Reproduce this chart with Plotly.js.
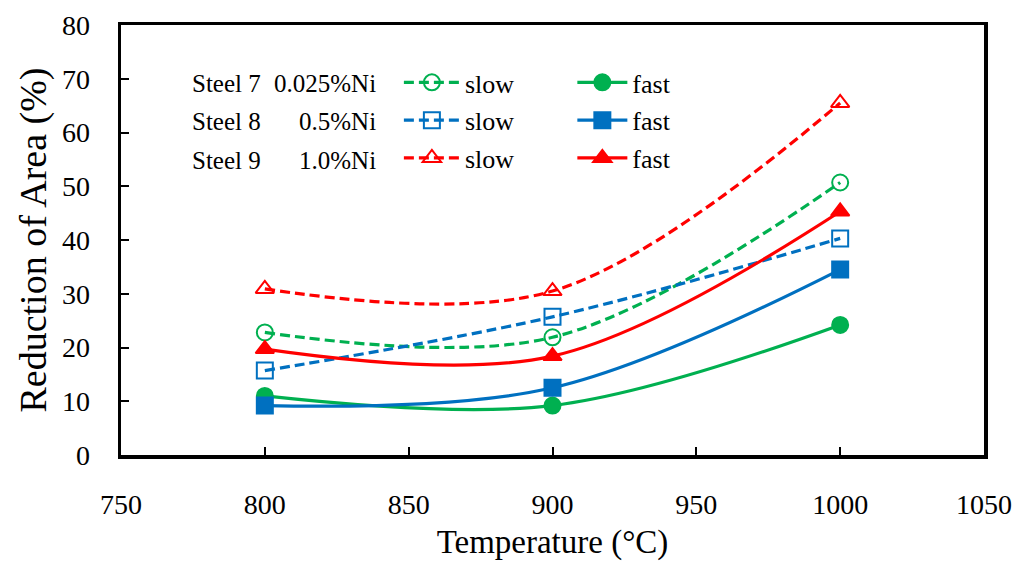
<!DOCTYPE html>
<html>
<head>
<meta charset="utf-8">
<script src="https://cdn.plot.ly/plotly-3.0.1.min.js"></script>
<style>
  html, body { margin: 0; padding: 0; background: #fff; }
  #chart { width: 1030px; height: 565px; }
</style>
</head>
<body>
<div id="chart"></div>
<script>
// Deformation temperature (°C)
const temperature = [800, 900, 1000];

// Reduction of area (%) for each steel and cooling rate
const steel7Slow = [22.8, 21.9, 50.7];
const steel7Fast = [11.0, 9.2, 24.2];
const steel8Slow = [15.7, 25.7, 40.3];
const steel8Fast = [9.2, 12.5, 34.5];
const steel9Slow = [30.9, 30.5, 65.5];
const steel9Fast = [19.7, 18.4, 45.3];

// Legend row labels
const steelNames = ['Steel 7', 'Steel 8', 'Steel 9'];
const nickelContents = ['0.025%Ni', '0.5%Ni', '1.0%Ni'];

const GREEN = '#00B050';
const BLUE = '#0070C0';
const RED = '#FF0000';
const FONT = '"Liberation Serif", "Times New Roman", Times, serif';

function series(y, name, color, symbol, dashed, legend, group) {
  return {
    x: temperature,
    y: y,
    name: name,
    type: 'scatter',
    mode: 'lines+markers',
    line: { color: color, width: 3.2, shape: 'spline', smoothing: 1, dash: dashed ? '10px,5px' : 'solid' },
    marker: { symbol: symbol, size: 16, color: color, line: { color: color, width: 2 } },
    legend: legend,
    legendgroup: group
  };
}

const traces = [
  series(steel7Slow, 'slow', GREEN, 'circle-open', true, 'legend', 'g1'),
  series(steel8Slow, 'slow', BLUE, 'square-open', true, 'legend', 'g2'),
  series(steel9Slow, 'slow', RED, 'triangle-up-open', true, 'legend', 'g3'),
  series(steel7Fast, 'fast', GREEN, 'circle', false, 'legend2', 'g4'),
  series(steel8Fast, 'fast', BLUE, 'square', false, 'legend2', 'g5'),
  series(steel9Fast, 'fast', RED, 'triangle-up', false, 'legend2', 'g6')
];

const legendStyle = {
  font: { family: FONT, size: 26, color: '#000' },
  bgcolor: 'rgba(0,0,0,0)',
  borderwidth: 0,
  traceorder: 'grouped',
  tracegroupgap: 1,
  yanchor: 'top',
  xanchor: 'left'
};

// Row labels beside the legend entries
const annotations = [];
const rowTop = 0.865;
const rowStep = 0.0895;
steelNames.forEach((s, i) => {
  annotations.push({
    xref: 'paper', yref: 'paper', x: 0.080, y: rowTop - i * rowStep,
    text: s, showarrow: false, xanchor: 'left', yanchor: 'middle',
    font: { family: FONT, size: 25, color: '#000' }
  });
  annotations.push({
    xref: 'paper', yref: 'paper', x: 0.2975, y: rowTop - i * rowStep,
    text: nickelContents[i], showarrow: false, xanchor: 'right', yanchor: 'middle',
    font: { family: FONT, size: 25, color: '#000' }
  });
});

const layout = {
  width: 1030,
  height: 565,
  margin: { l: 121, r: 46, t: 25, b: 110 },
  paper_bgcolor: '#fff',
  plot_bgcolor: '#fff',
  font: { family: FONT, color: '#000' },
  showlegend: true,
  legend: Object.assign({}, legendStyle, { x: 0.322, y: 0.921, itemwidth: 56 }),
  legend2: Object.assign({}, legendStyle, { x: 0.523, y: 0.921, itemwidth: 50 }),
  xaxis: {
    range: [750, 1050],
    dtick: 50,
    tick0: 750,
    ticks: 'inside',
    ticklen: 8,
    tickwidth: 2,
    tickcolor: '#000',
    showline: true,
    linewidth: 3.5,
    linecolor: '#000',
    mirror: true,
    showgrid: false,
    zeroline: false,
    ticklabelstandoff: 22,
    tickfont: { family: FONT, size: 28, color: '#000' },
    title: { text: 'Temperature (°C)', font: { family: FONT, size: 33, color: '#000' }, standoff: 12 }
  },
  yaxis: {
    range: [0, 80],
    dtick: 10,
    ticks: 'inside',
    ticklen: 8,
    tickwidth: 2,
    tickcolor: '#000',
    showline: true,
    linewidth: 3.5,
    linecolor: '#000',
    mirror: true,
    showgrid: false,
    zeroline: false,
    ticklabelstandoff: 22,
    tickfont: { family: FONT, size: 28, color: '#000' },
    title: { text: 'Reduction of Area (%)', font: { family: FONT, size: 38, color: '#000' }, standoff: 4 }
  },
  annotations: annotations
};

Plotly.newPlot('chart', traces, layout, { displayModeBar: false, staticPlot: true }).then(gd => {
  // Lengthen each legend line sample to 56px, centred on its marker
  gd.querySelectorAll('.legend .traces').forEach(item => {
    const pt = item.querySelector('.legendpoints path');
    const ln = item.querySelector('.legendlines path');
    if (!pt || !ln) return;
    const box = pt.getBoundingClientRect();
    const cx = box.left + box.width / 2;
    const ctm = ln.getScreenCTM();
    const lx = (cx - ctm.e) / ctm.a;
    ln.setAttribute('d', 'M' + (lx - 28) + ',0h56');
  });
});
</script>
</body>
</html>
